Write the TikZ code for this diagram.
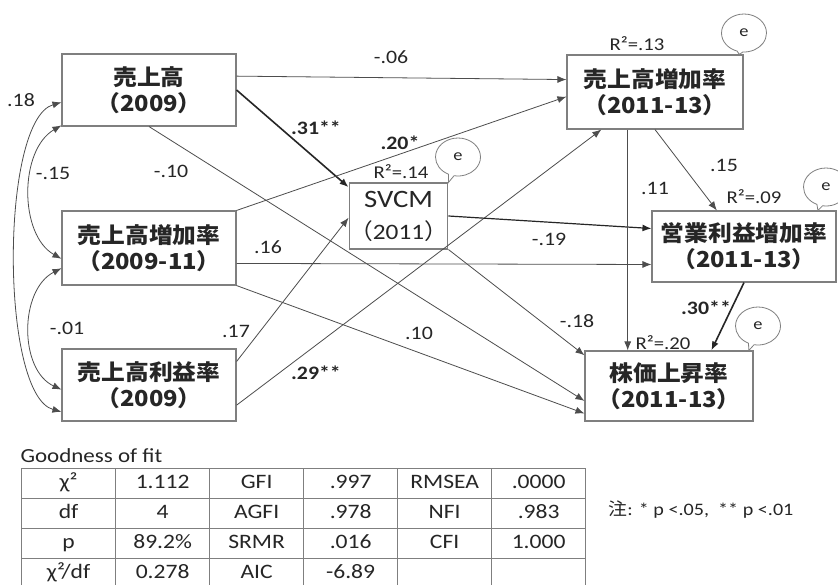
\documentclass[tikz,border=0pt]{standalone}
\usepackage{fontspec}
\setmainfont{Carlito}[FakeStretch=1.15]
\newfontfamily\jpfont{Noto Sans CJK JP}[FakeStretch=1.08]
\usepackage{tikz}
\usetikzlibrary{arrows.meta, shapes.callouts, matrix}
\definecolor{boxGray}{HTML}{7F7F7F}
\definecolor{lineGray}{HTML}{4D4D4D}
\definecolor{inkDark}{HTML}{262626}

\begin{document}
\begin{tikzpicture}[
  x=1pt, y=1pt,
  var/.style={rectangle, draw=boxGray, line width=1.1pt, inner sep=0pt, minimum width=174pt, minimum height=72pt, align=center, font=\jpfont\bfseries\fontsize{22}{26}\selectfont, text=inkDark},
  arrow/.style={-{Latex[length=9pt,width=7pt]}, line width=0.8pt, color=lineGray},
  boldarrow/.style={arrow, line width=1.6pt, color=inkDark},
  cov/.style={{Latex[length=9pt,width=7pt]}-{Latex[length=9pt,width=7pt]}, line width=0.8pt, color=lineGray},
  coef/.style={font=\fontsize{19}{21}\selectfont, text=inkDark},
  boldcoef/.style={coef, font=\bfseries\fontsize{19}{21}\selectfont},
  rsq/.style={font=\fontsize{18}{20}\selectfont, text=inkDark},
  err/.style={ellipse callout, draw=boxGray, line width=0.8pt, fill=white, minimum width=45pt, minimum height=38pt, inner sep=0pt, font=\fontsize{16}{18}\selectfont, text=inkDark},
  cell/.style={draw=boxGray, line width=0.9pt, minimum width=94pt, minimum height=30pt, inner sep=0pt, text height=14pt, text depth=4pt, font=\fontsize{20.5}{22}\selectfont, text=inkDark},
]

\useasboundingbox (0,0) rectangle (838,-585);
\fill[white] (0,0) rectangle (838,-585);

\node[var] (sales09) at (149,-90) {売上高\\（2009）};
\node[var, minimum height=74pt] (growth0911) at (149,-248) {売上高増加率\\（2009-11）};
\node[var] (margin09) at (149,-385) {売上高利益率\\（2009）};
\node[var, minimum width=97pt, minimum height=66pt, font=\fontsize{25}{32}\selectfont] (svcm) at (398.5,-216) {SVCM\\\fontsize{22}{32}\selectfont{\jpfont （}2011{\jpfont ）}};
\node[var, minimum width=176pt, minimum height=74pt] (growth1113) at (655,-92) {売上高増加率\\（2011-13）};
\node[var, minimum width=184pt, minimum height=71pt] (opgrowth) at (744,-246.5) {営業利益増加率\\（2011-13）};
\node[var, minimum width=168pt, minimum height=70pt] (stock) at (669,-386) {株価上昇率\\（2011-13）};

\node[err, callout absolute pointer={(svcm.north east)}] (eSvcm) at (458,-157) {e};
\node[err, callout absolute pointer={(growth1113.24)}] (eGrowth) at (744,-33) {e};
\node[err, callout absolute pointer={(opgrowth.26)}] (eOp) at (826,-187) {e};
\node[err, callout absolute pointer={(stock.24)}] (eStock) at (758,-326) {e};

\node[rsq] (rGrowth) at (637,-44) {R²=.13};
\node[rsq] (rSvcm) at (401,-172) {R²=.14};
\node[rsq] (rOp) at (754,-197) {R²=.09};
\node[rsq] (rStock) at (663,-343) {R²=.20};

\draw[cov] (sales09.188) .. controls (0,-120) and (0,-395) .. (margin09.197);
\draw[cov] (sales09.202) .. controls (19,-150) and (19,-235) .. (growth0911.187);
\draw[cov] (growth0911.193) .. controls (19,-290) and (19,-370) .. (margin09.183);

\draw[arrow] (sales09.9) -- (growth1113.172);
\draw[boldarrow] (sales09.east) -- (svcm.150);
\draw[arrow] (sales09.south) -- (stock.190);
\draw[arrow] (growth0911.north east) -- (growth1113.183);
\draw[arrow] (growth0911.-10) -- (opgrowth.191);
\draw[arrow] (growth0911.south east) -- (stock.198);
\draw[arrow] (margin09.15) -- (svcm.182);
\draw[arrow] (margin09.-13) -- (growth1113.215);
\draw[boldarrow, line width=1.2pt] (svcm.east) -- (opgrowth.169);
\draw[arrow] (svcm.south east) -- (stock.160);
\draw[arrow] (growth1113.south) -- (opgrowth.127);
\draw[arrow] (growth1113.-126) -- (growth1113.-126 |- stock.north);
\draw[boldarrow] (opgrowth.south) -- (stock.40);

\node[coef] (cSalesMargin) at (21,-100) {.18};
\node[coef] (cSalesGrowth) at (53,-173) {-.15};
\node[coef] (cSalesStock) at (171,-171) {-.10};
\node[coef] (cSalesGrowthB) at (391,-57) {-.06};
\node[boldcoef] (cSalesSvcm) at (316,-128) {.31**};
\node[boldcoef] (cGrowthGrowth) at (400,-143) {.20*};
\node[coef] (cGrowthOp) at (268,-247) {.16};
\node[coef] (cGrowthMargin) at (67,-328) {-.01};
\node[coef] (cMarginSvcm) at (236,-331) {.17};
\node[boldcoef] (cMarginGrowth) at (316,-373) {.29**};
\node[coef] (cGrowthStock) at (419,-333) {.10};
\node[coef] (cSvcmOp) at (549,-239) {-.19};
\node[coef] (cSvcmStock) at (577,-321) {-.18};
\node[coef] (cGrowthStockB) at (655,-188) {.11};
\node[coef] (cGrowthOpB) at (724,-165) {.15};
\node[boldcoef] (cOpStock) at (706,-308) {.30**};

\node[anchor=west, font=\fontsize{20}{22}\selectfont, text=inkDark] (gofTitle) at (17,-456) {Goodness of fit};
\matrix (gof) [matrix of nodes, nodes={cell}, column sep=-0.9pt, row sep=-0.9pt, nodes in empty cells, anchor=north west, inner sep=0pt] at (21,-468) {
  χ² & 1.112 & GFI & .997 & RMSEA & .0000 \\
  df & 4 & AGFI & .978 & NFI & .983 \\
  p & 89.2\% & SRMR & .016 & CFI & 1.000 \\
  χ²/df & 0.278 & AIC & -6.89 & & \\
};
\node[font=\fontsize{17.5}{19}\selectfont, text=inkDark] (note) at (701,-510) {{\jpfont 注}: * p <.05,\ \ ** p <.01};

\end{tikzpicture}
\end{document}
